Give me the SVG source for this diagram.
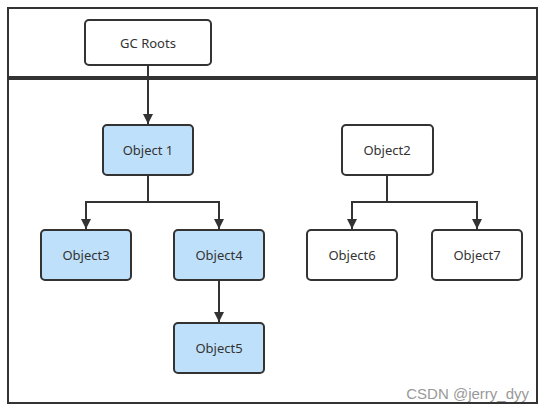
<svg xmlns="http://www.w3.org/2000/svg" width="545" height="413" viewBox="0 0 545 413">
<style>
.box{stroke:#333;stroke-width:2;fill:#fff}
.blue{fill:#bfe0fa}
.lbl{font-family:"Noto Sans","Open Sans",sans-serif;font-size:13px;fill:#333;text-anchor:middle;dominant-baseline:central}
.edge{stroke:#333;stroke-width:2;fill:none}
</style>
<defs>
<marker id="arr" viewBox="0 0 10 10" refX="10" refY="5" markerWidth="10" markerHeight="10" markerUnits="userSpaceOnUse" orient="auto">
<path d="M0,0 L10,5 L0,10 Z" fill="#333"/>
</marker>
</defs>
<rect x="0" y="0" width="545" height="413" fill="#fff"/>
<g id="frame">
<rect x="8" y="8" width="529" height="395" fill="none" stroke="#333" stroke-width="2"/>
<line x1="8" y1="78" x2="537" y2="78" stroke="#333" stroke-width="4"/>
</g>
<g id="connectors">
<path class="edge" d="M148,65 V124" marker-end="url(#arr)"/>
<path class="edge" d="M148,175 V202 H86 V229" marker-end="url(#arr)"/>
<path class="edge" d="M148,202 H219 V229" marker-end="url(#arr)"/>
<path class="edge" d="M219,280 V322" marker-end="url(#arr)"/>
<path class="edge" d="M387,175 V202 H352 V229" marker-end="url(#arr)"/>
<path class="edge" d="M387,202 H477 V229" marker-end="url(#arr)"/>
</g>
<g id="gcroots"><rect class="box" x="85" y="20" width="126" height="45" rx="4"/><text class="lbl" x="148" y="43">GC Roots</text></g>
<g id="object1"><rect class="box blue" x="103" y="125" width="90" height="50" rx="4"/><text class="lbl" x="148" y="150">Object 1</text></g>
<g id="object3"><rect class="box blue" x="41" y="230" width="90" height="50" rx="4"/><text class="lbl" x="86" y="255">Object3</text></g>
<g id="object4"><rect class="box blue" x="174" y="230" width="90" height="50" rx="4"/><text class="lbl" x="219" y="255">Object4</text></g>
<g id="object5"><rect class="box blue" x="174" y="323" width="90" height="50" rx="4"/><text class="lbl" x="219" y="348">Object5</text></g>
<g id="object2"><rect class="box" x="342" y="125" width="91" height="50" rx="4"/><text class="lbl" x="387" y="150">Object2</text></g>
<g id="object6"><rect class="box" x="307" y="230" width="90" height="50" rx="4"/><text class="lbl" x="352" y="255">Object6</text></g>
<g id="object7"><rect class="box" x="432" y="230" width="90" height="50" rx="4"/><text class="lbl" x="477" y="255">Object7</text></g>
<text x="529" y="399" font-family="'Liberation Sans',Arial,sans-serif" font-size="15" fill="#999" text-anchor="end">CSDN @jerry_dyy</text>
</svg>
